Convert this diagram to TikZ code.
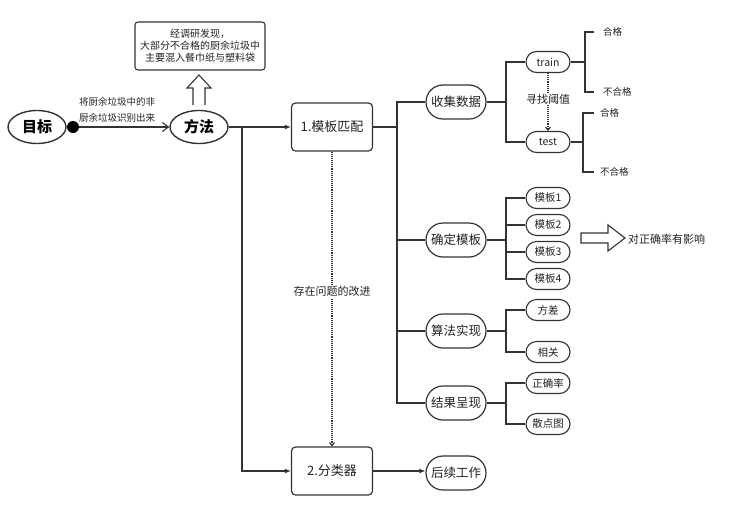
\documentclass[tikz,border=0pt]{standalone}
\usepackage{fontspec}
\setmainfont{Noto Sans CJK SC}
\usetikzlibrary{shapes.geometric,shapes.misc,arrows.meta}
\definecolor{ln}{HTML}{333333}
\definecolor{tx}{HTML}{222222}
\begin{document}
\begin{tikzpicture}[x=1pt,y=-1pt,
  fs/.style={font=\fontsize{#1}{#1}\selectfont},
  line/.style={draw=ln, line width=1.1pt},
  ell/.style={ellipse, draw=ln, line width=1.4pt, inner sep=0, minimum width=58, minimum height=33, font=\fontsize{15}{15}\selectfont\bfseries, text=black},
  pill/.style={rounded rectangle, draw=ln, line width=1.2pt, inner sep=0, minimum width=60, minimum height=34, font=\fontsize{12.5}{12.5}\selectfont, text=tx},
  spill/.style={rounded rectangle, draw=ln, line width=1.1pt, inner sep=0, minimum width=44, minimum height=21, font=\fontsize{10.5}{10.5}\selectfont, text=tx},
  box/.style={rectangle, rounded corners=4pt, draw=ln, line width=1.2pt, minimum width=81, minimum height=48, font=\fontsize{13}{13}\selectfont, text=tx},
  lbl/.style={inner sep=1pt, text=tx, font=\fontsize{#1}{#1}\selectfont},
  lbl/.default=9.5,
  dots/.style={draw=ln, line width=1.1pt, densely dotted, -{Straight Barb[length=3pt,width=5pt]}},
  arr/.style={line, -{Latex[length=6pt,width=5pt]}}
]
\useasboundingbox (0,0) rectangle (730,512);

% left part
\node[ell] (goal) at (37,127) {目标};
\node[circle, fill=black, minimum size=12pt, inner sep=0] (dot) at (73,127) {};
\node[ell] (method) at (199,127) {方法};
\draw[line, -{Straight Barb[length=6pt,width=9pt]}] (dot) -- (method);
\node[lbl, align=center, font=\fontsize{9.5}{16}\selectfont] (goaltext) at (117,110) {将厨余垃圾中的非\\厨余垃圾识别出来};

\node[rectangle, rounded corners=3pt, draw=ln, line width=1.1pt, minimum width=130, minimum height=48, align=center, text=tx, font=\fontsize{10}{12}\selectfont] (note) at (200,46) {经调研发现，\\大部分不合格的厨余垃圾中\\主要混入餐巾纸与塑料袋};
\draw[ln, line width=1.1pt, line join=miter] (193,105) -- (193,88) -- (187,88) -- (199,75) -- (211,88) -- (205,88) -- (205,105);

% boxes
\node[box] (b1) at (332,127) {1.模板匹配};
\node[box] (b2) at (332,471) {2.分类器};
\coordinate (j) at (242,127);
\draw[arr] (method.east) -- (b1.west);
\draw[arr] (j) |- (b2.west);
\draw[dots] (b1.south) -- node[fill=white, lbl=11, inner sep=2pt, pos=0.475] (imp) {存在问题的改进} (b2.north);

% main branches
\node[pill] (c1) at (456,102) {收集数据};
\node[pill] (c2) at (456,240) {确定模板};
\node[pill] (c3) at (456,331) {算法实现};
\node[pill] (c4) at (456,403) {结果呈现};
\node[pill] (c5) at (456,473) {后续工作};
\coordinate (tr) at (397,0);
\draw[line] (b1.east) -- (b1.east -| tr);
\draw[line] (c1.west) -- (c1.west -| tr) -- (c4.west -| tr) -- (c4.west);
\draw[line] (c2.west) -- (c2.west -| tr);
\draw[line] (c3.west) -- (c3.west -| tr);
\draw[arr] (b2.east) -- (b2.east -| c5.west);

% sub branches
\coordinate (sb) at (506,0);
\node[spill] (train) at (548,62) {train};
\node[spill] (test) at (548,142) {test};
\node[spill] (m1) at (548,198) {模板1};
\node[spill] (m2) at (548,225) {模板2};
\node[spill] (m3) at (548,252) {模板3};
\node[spill] (m4) at (548,279) {模板4};
\node[spill] (f1) at (548,310) {方差};
\node[spill] (f2) at (548,352) {相关};
\node[spill] (r1) at (548,383) {正确率};
\node[spill] (r2) at (548,424) {散点图};

\draw[line] (c1.east) -- (c1.east -| sb);
\draw[line] (train.west) -- (train.west -| sb) -- (test.west -| sb) -- (test.west);
\draw[line] (c2.east) -- (c2.east -| sb);
\draw[line] (m1.west) -- (m1.west -| sb) -- (m4.west -| sb) -- (m4.west);
\draw[line] (m2.west) -- (m2.west -| sb);
\draw[line] (m3.west) -- (m3.west -| sb);
\draw[line] (c3.east) -- (c3.east -| sb);
\draw[line] (f1.west) -- (f1.west -| sb) -- (f2.west -| sb) -- (f2.west);
\draw[line] (c4.east) -- (c4.east -| sb);
\draw[line] (r1.west) -- (r1.west -| sb) -- (r2.west -| sb) -- (r2.west);

\draw[dots] (train.south) -- node[fill=white, lbl=11, inner sep=1pt, pos=0.45] (th) {寻找阈值} (test.north);

% outcomes
\node[lbl, anchor=west] (q1) at (602,32) {合格};
\node[lbl, anchor=west] (q2) at (602,92) {不合格};
\node[lbl, anchor=west] (q3) at (599,113) {合格};
\node[lbl, anchor=west] (q4) at (599,172) {不合格};
\coordinate (ob1) at (585,0);
\coordinate (ob2) at (583,0);
\draw[line] (train.east) -- (train.east -| ob1);
\draw[line] ([xshift=-8pt]q1.west) -- (q1.west -| ob1) -- (q2.west -| ob1) -- ([xshift=-8pt]q2.west);
\draw[line] (test.east) -- (test.east -| ob2);
\draw[line] ([xshift=-5pt]q3.west) -- (q3.west -| ob2) -- (q4.west -| ob2) -- ([xshift=-5pt]q4.west);

% effect
\draw[ln, line width=1.1pt, line join=miter] (581,233) -- (608,233) -- (608,225) -- (625,238) -- (608,251) -- (608,243) -- (581,243) -- cycle;
\node[lbl=11, anchor=west] (eff) at (627,239) {对正确率有影响};
\end{tikzpicture}
\end{document}
